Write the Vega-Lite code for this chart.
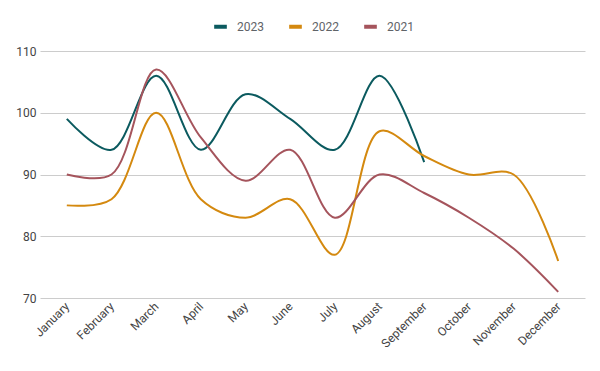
{
  "$schema": "https://vega.github.io/schema/vega-lite/v6.json",
  "width": 545,
  "height": 247,
  "autosize": {"type": "none"},
  "padding": {"left": 40, "top": 51, "right": 15, "bottom": 73},
  "background": "white",
  "config": {
    "view": {"stroke": null},
    "font": "Roboto"
  },
  "data": {
    "values": [
      {"month": "January", "year": "2023", "value": 99},
      {"month": "February", "year": "2023", "value": 94},
      {"month": "March", "year": "2023", "value": 106},
      {"month": "April", "year": "2023", "value": 94},
      {"month": "May", "year": "2023", "value": 103},
      {"month": "June", "year": "2023", "value": 99},
      {"month": "July", "year": "2023", "value": 94},
      {"month": "August", "year": "2023", "value": 106},
      {"month": "September", "year": "2023", "value": 92},
      {"month": "January", "year": "2022", "value": 85},
      {"month": "February", "year": "2022", "value": 86},
      {"month": "March", "year": "2022", "value": 100},
      {"month": "April", "year": "2022", "value": 86},
      {"month": "May", "year": "2022", "value": 83},
      {"month": "June", "year": "2022", "value": 86},
      {"month": "July", "year": "2022", "value": 77},
      {"month": "August", "year": "2022", "value": 97},
      {"month": "September", "year": "2022", "value": 93},
      {"month": "October", "year": "2022", "value": 90},
      {"month": "November", "year": "2022", "value": 90},
      {"month": "December", "year": "2022", "value": 76},
      {"month": "January", "year": "2021", "value": 90},
      {"month": "February", "year": "2021", "value": 90},
      {"month": "March", "year": "2021", "value": 107},
      {"month": "April", "year": "2021", "value": 96},
      {"month": "May", "year": "2021", "value": 89},
      {"month": "June", "year": "2021", "value": 94},
      {"month": "July", "year": "2021", "value": 83},
      {"month": "August", "year": "2021", "value": 90},
      {"month": "September", "year": "2021", "value": 87},
      {"month": "October", "year": "2021", "value": 83},
      {"month": "November", "year": "2021", "value": 78},
      {"month": "December", "year": "2021", "value": 71}
    ]
  },
  "mark": {"type": "line", "interpolate": "catmull-rom", "strokeWidth": 2},
  "encoding": {
    "x": {
      "field": "month",
      "type": "ordinal",
      "sort": ["January", "February", "March", "April", "May", "June", "July", "August", "September", "October", "November", "December"],
      "scale": {"type": "point", "padding": 0.6},
      "axis": {
        "title": null,
        "labelAngle": -45,
        "labelAlign": "right",
        "labelBaseline": "middle",
        "labelFontSize": 12,
        "labelColor": "#444444",
        "labelPadding": 6,
        "labelDx": 4,
        "ticks": false,
        "domain": false,
        "grid": false
      }
    },
    "y": {
      "field": "value",
      "type": "quantitative",
      "scale": {"domain": [70, 110], "nice": false, "zero": false},
      "axis": {
        "title": null,
        "values": [70, 80, 90, 100, 110],
        "labelFontSize": 12,
        "labelColor": "#444444",
        "labelPadding": 4,
        "ticks": false,
        "domain": false,
        "grid": true,
        "gridColor": "#cccccc",
        "gridWidth": 1
      }
    },
    "color": {
      "field": "year",
      "type": "nominal",
      "sort": ["2023", "2022", "2021"],
      "scale": {"domain": ["2023", "2022", "2021"], "range": ["#0b5a5f", "#d4890f", "#a5545c"]},
      "legend": {
        "title": null,
        "orient": "none",
        "direction": "horizontal",
        "legendX": 172,
        "legendY": -33,
        "symbolType": "stroke",
        "symbolSize": 160,
        "symbolStrokeWidth": 4,
        "symbolOpacity": 1,
        "labelFontSize": 12,
        "labelColor": "#5f6368",
        "columnPadding": 17,
        "labelOffset": 8
      }
    }
  }
}
